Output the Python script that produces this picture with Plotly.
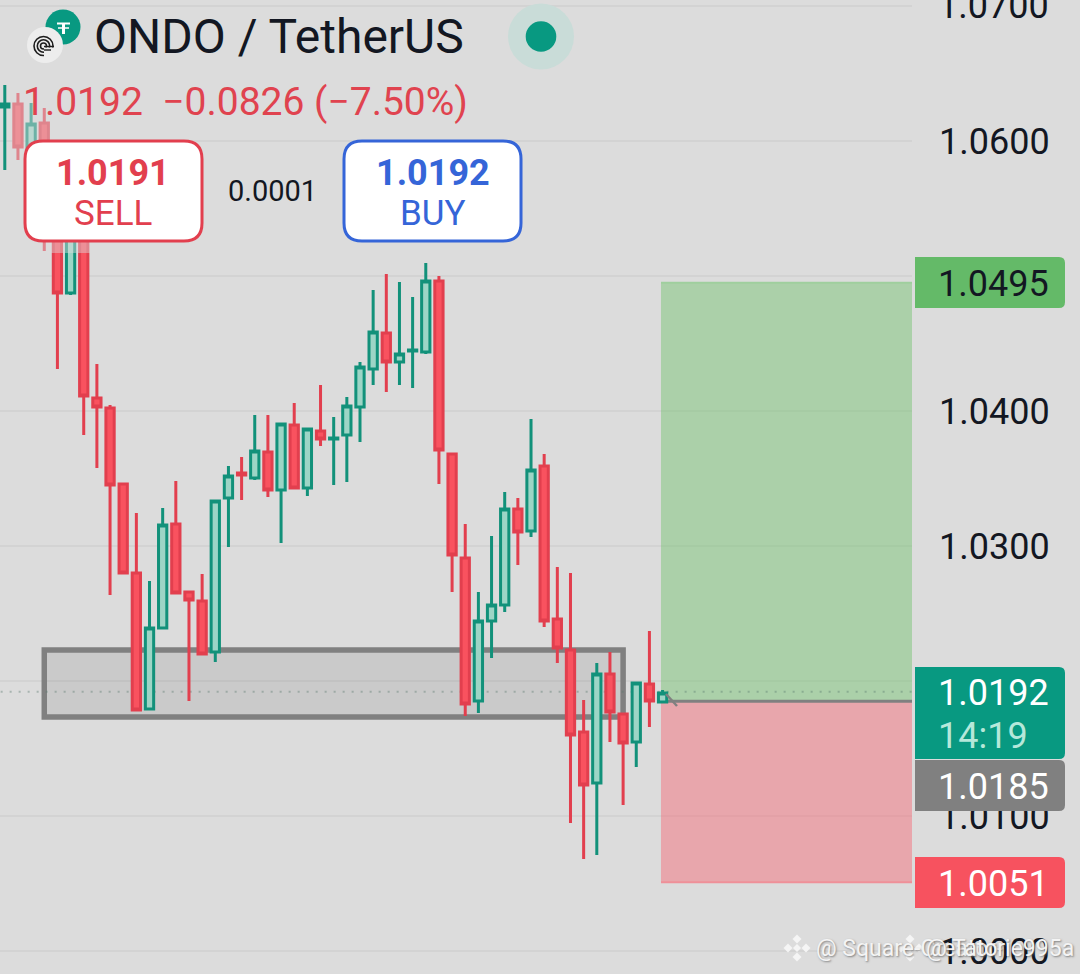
import plotly.graph_objects as go

W, H = 1080, 974
BG = "#dcdcdc"
PANEL = 912

# candle data
direction = ["u","d","u","d","d","u","d","d","d","d","d","u","u","d","d","d","u","u","d","u",
             "d","u","d","u","d","u","u","u","u","d","u","u","u","d","d","d","u","u","u","d",
             "u","d","d","d","d","u","d","d","u","d","u"]
highs = [1.06415,1.06356,1.06281,1.06244,1.05637,1.05637,1.05526,1.04348,1.04044,1.03467,
         1.03244,1.02741,1.03281,1.03481,1.02667,1.02793,1.03333,1.03593,1.03659,1.03970,
         1.03970,1.03911,1.04059,1.03867,1.04193,1.03956,1.04104,1.04363,1.04896,1.05015,
         1.04956,1.04844,1.05096,1.05000,1.03681,1.03163,1.02659,1.03074,1.03400,1.03356,
         1.03941,1.03681,1.02844,1.02800,1.01859,1.02133,1.02215,1.01763,1.01993,1.02370,1.01933]
body_tops = [1.06274,1.06274,1.06126,1.06133,1.05600,1.05526,1.05489,1.04096,1.04022,1.03459,
             1.02800,1.02393,1.03156,1.03163,1.02659,1.02593,1.03333,1.03519,1.03541,1.03704,
             1.03696,1.03904,1.03896,1.03867,1.03852,1.03800,1.04037,1.04326,1.04585,1.04578,
             1.04422,1.04452,1.04963,1.04963,1.03681,1.02911,1.02444,1.02563,1.03274,1.03274,
             1.03563,1.03593,1.02459,1.02230,1.01622,1.02052,1.02052,1.01756,1.01985,1.01978,1.01911]
body_bots = [1.06252,1.05956,1.05822,1.05526,1.04874,1.04874,1.04111,1.04030,1.03452,1.02800,
             1.01785,1.01793,1.02393,1.02652,1.02600,1.02200,1.02215,1.03356,1.03526,1.03504,
             1.03415,1.03415,1.03430,1.03430,1.03793,1.03793,1.03822,1.04030,1.04311,1.04363,
             1.04363,1.04444,1.04437,1.03711,1.02933,1.01830,1.01852,1.02444,1.02563,1.03104,
             1.03111,1.02444,1.02244,1.01600,1.01230,1.01244,1.01770,1.01541,1.01548,1.01852,1.01844]
lows = [1.05785,1.05859,1.05711,1.05185,1.04311,1.04859,1.03822,1.03578,1.02637,1.02793,
        1.01778,1.01785,1.02393,1.02652,1.01852,1.02193,1.02141,1.02993,1.03341,1.03489,
        1.03363,1.03022,1.03430,1.03370,1.03741,1.03452,1.03474,1.03770,1.04193,1.04141,
        1.04193,1.04170,1.04422,1.03459,1.02659,1.01741,1.01763,1.02170,1.02511,1.02859,
        1.03067,1.02400,1.02133,1.00948,1.00681,1.00711,1.01548,1.01081,1.01363,1.01659,1.01837]
opens = [b if d == "u" else t for d, t, b in zip(direction, body_tops, body_bots)]
closes = [t if d == "u" else b for d, t, b in zip(direction, body_tops, body_bots)]
index = list(range(len(highs)))

# axis
tick_values = [1.00, 1.01, 1.02, 1.03, 1.04, 1.05, 1.06, 1.07]
price_range = [0.99830, 1.07044]
index_range = [-0.365, 68.96]
top_tick_price = 1.07

# levels and tool
target_price = 1.0495
entry_price = 1.0185
stop_price = 1.0051
last_price = 1.0192
zone_low, zone_high = 1.01733, 1.0223
zone_start, zone_end = 3, 47
tool_start = 49.88

TEAL = "#089981"
RED = "#e23f4e"
BLUE = "#3565d8"
INK = "#131722"
FONT = "Roboto"


def px(x):
    return x / W


def py(y):
    return 1 - y / H


def rrect(x0, y0, x1, y1, r_left, r_right):
    return (f"M {px(x0 + r_left)} {py(y0)} L {px(x1 - r_right)} {py(y0)} "
            f"Q {px(x1)} {py(y0)} {px(x1)} {py(y0 + r_right)} "
            f"L {px(x1)} {py(y1 - r_right)} Q {px(x1)} {py(y1)} {px(x1 - r_right)} {py(y1)} "
            f"L {px(x0 + r_left)} {py(y1)} Q {px(x0)} {py(y1)} {px(x0)} {py(y1 - r_left)} "
            f"L {px(x0)} {py(y0 + r_left)} Q {px(x0)} {py(y0)} {px(x0 + r_left)} {py(y0)} Z")


def box(x0, y0, x1, y1, fill, line=None, lw=0, r_left=0, r_right=6):
    return dict(type="path", xref="paper", yref="paper", path=rrect(x0, y0, x1, y1, r_left, r_right),
                fillcolor=fill, line=dict(color=line or fill, width=lw), layer="above")


def circle(cx, cy, r, fill="rgba(0,0,0,0)", line=None, lw=0):
    return dict(type="circle", xref="paper", yref="paper", x0=px(cx - r), x1=px(cx + r),
                y0=py(cy + r), y1=py(cy - r), fillcolor=fill,
                line=dict(color=line or "rgba(0,0,0,0)", width=lw), layer="above")


def seg(x0, y0, x1, y1, color, lw):
    return dict(type="line", xref="paper", yref="paper", x0=px(x0), x1=px(x1), y0=py(y0), y1=py(y1),
                line=dict(color=color, width=lw), layer="above")


def diamond(cx, cy, r, fill):
    path = (f"M {px(cx)} {py(cy - r)} L {px(cx + r)} {py(cy)} L {px(cx)} {py(cy + r)} "
            f"L {px(cx - r)} {py(cy)} Z")
    return dict(type="path", xref="paper", yref="paper", path=path, fillcolor=fill,
                line=dict(width=0), layer="above")


def binance(cx, cy):
    c = "rgba(246,246,246,0.95)"
    return [diamond(cx, cy, 4, c), diamond(cx, cy - 9, 4.5, c), diamond(cx, cy + 9, 4.5, c),
            diamond(cx - 9, cy, 4.5, c), diamond(cx + 9, cy, 4.5, c)]


def label(x, y, text, size, color, bold=False, xanchor="left", yref="paper", shadow=None, yshift=0):
    font = dict(family=FONT, size=size, color=color, weight=700 if bold else 400)
    if shadow:
        font["shadow"] = shadow
    return dict(x=px(x), xref="paper", y=py(y) if yref == "paper" else y, yref=yref, text=text,
                showarrow=False, xanchor=xanchor, yanchor="middle", font=font,
                borderpad=0, borderwidth=0, yshift=yshift)


fig = go.Figure(go.Candlestick(
    x=index, open=opens, high=highs, low=lows, close=closes,
    whiskerwidth=0,
    increasing=dict(line=dict(color="#12917a", width=3), fillcolor="#9dd5c6"),
    decreasing=dict(line=dict(color=RED, width=3), fillcolor="#f9525f"),
    showlegend=False, hoverinfo="skip",
))

shapes = [
    # zone box
    dict(type="rect", xref="x", yref="y", x0=zone_start, x1=zone_end, y0=zone_low, y1=zone_high,
         fillcolor="rgba(128,128,128,0.2)", line=dict(color="#808080", width=5.5), layer="between"),
    # long position tool
    dict(type="rect", xref="x", yref="y", x0=tool_start, x1=70, y0=entry_price, y1=target_price,
         fillcolor="rgba(122,196,118,0.5)", line=dict(width=0), layer="between"),
    dict(type="rect", xref="x", yref="y", x0=tool_start, x1=70, y0=stop_price, y1=entry_price,
         fillcolor="rgba(244,112,124,0.5)", line=dict(width=0), layer="between"),
    dict(type="line", xref="x", yref="y", x0=tool_start, x1=70, y0=target_price, y1=target_price,
         line=dict(color="#9fcf9e", width=2), layer="between"),
    dict(type="line", xref="x", yref="y", x0=tool_start, x1=70, y0=stop_price, y1=stop_price,
         line=dict(color="#ef9099", width=2), layer="between"),
    dict(type="line", xref="x", yref="y", x0=tool_start, x1=70, y0=entry_price, y1=entry_price,
         line=dict(color="#808080", width=3), layer="between"),
    # last price dotted line
    dict(type="line", xref="x", yref="y", x0=-1, x1=70, y0=last_price, y1=last_price,
         line=dict(color="rgba(90,120,110,0.4)", width=2, dash="2px,7px"), layer="between"),
    # entry connector
    seg(666, 694, 677, 706, "#808080", 2.5),
    # legend wash over first candles
    dict(type="rect", xref="paper", yref="paper", x0=px(12), x1=px(90), y0=py(253), y1=py(90),
         fillcolor="rgba(220,220,220,0.45)", line=dict(width=0), layer="above"),
    # price tags
    box(915, 257, 1065, 308, "#64ba68"),
    box(915, 667, 1065, 759, TEAL),
    box(915, 760, 1065, 811, "#808080"),
    box(915, 857, 1065, 908, "#f7525f"),
    # sell and buy
    box(25, 141, 202, 241, "#ffffff", RED, 3, 18, 18),
    box(344, 141, 521, 241, "#ffffff", BLUE, 3, 18, 18),
    # status dot
    circle(541, 36.5, 33, "#c9dcd8"),
    circle(541, 36.5, 15.3, TEAL),
    # tether icon
    circle(63, 27, 17.5, TEAL),
    seg(57, 23.5, 70, 23.5, "#ffffff", 2),
    seg(58, 28, 69, 28, "#ffffff", 1.5),
    seg(63.5, 24, 63.5, 34, "#ffffff", 3),
    # ondo icon
    circle(45, 45, 18, "#ededed"),
    circle(43.5, 46, 9.5, "rgba(0,0,0,0)", "#1d1d1d", 1.6),
    circle(43.5, 46, 6.2, "rgba(0,0,0,0)", "#1d1d1d", 1.6),
    circle(43.5, 46, 3, "rgba(0,0,0,0)", "#1d1d1d", 1.6),
    dict(type="rect", xref="paper", yref="paper", x0=px(44), x1=px(55), y0=py(57), y1=py(47.5),
         fillcolor="#ededed", line=dict(width=0), layer="above"),
    seg(44, 46.5, 54, 46.5, "#1d1d1d", 1.4),
    seg(44, 50, 51, 50, "#1d1d1d", 1.4),
]
shapes += binance(797, 948) + binance(910, 948)

WM = "1px 1px 2px rgba(90,90,90,0.7)"
annotations = [
    label(938, top_tick_price, "1.0700", 36, INK, yref="y"),
    label(94, 37, "ONDO / TetherUS", 48, INK),
    label(23, 102, "1.0192\u00a0\u00a0\u22120.0826 (\u22127.50%)", 39, "#e0434f"),
    label(113, 173, "1.0191", 36, RED, bold=True, xanchor="center"),
    label(113, 213, "SELL", 35, RED, xanchor="center"),
    label(272, 191, "0.0001", 29, INK, xanchor="center"),
    label(432.5, 173, "1.0192", 36, BLUE, bold=True, xanchor="center"),
    label(432.5, 213, "BUY", 35, BLUE, xanchor="center"),
    label(938, target_price, "1.0495", 36, INK, yref="y", yshift=-1),
    label(938, last_price, "1.0192", 36, "#ffffff", yref="y", yshift=-1.5),
    label(938, 736, "14:19", 36, "#b5e8da"),
    label(938, 787, "1.0185", 36, "#ffffff"),
    label(938, stop_price, "1.0051", 36, "#ffffff", yref="y", yshift=-1.5),
    label(816, 948, "@ Square-Creator-", 23, "#f4f4f4", shadow=WM),
    label(926, 948, "@ Tatorie995a", 23, "#f4f4f4", shadow=WM),
]

fig.update_layout(
    width=W, height=H, autosize=False,
    margin=dict(l=0, r=0, t=0, b=0, pad=0),
    paper_bgcolor=BG, plot_bgcolor=BG,
    boxgap=0.1,
    showlegend=False,
    shapes=shapes, annotations=annotations,
    xaxis=dict(domain=[0, PANEL / W], range=index_range, visible=False, rangeslider=dict(visible=False),
               fixedrange=True),
    yaxis=dict(domain=[0, 1], range=price_range, side="right", tickvals=tick_values, tickformat=".4f",
               ticks="", ticklabelstandoff=26, showline=False, zeroline=False,
               showgrid=True, gridcolor="#d3d3d3", gridwidth=2,
               tickfont=dict(family=FONT, size=36, color=INK), fixedrange=True),
)

fig.write_html("out.html", config=dict(displayModeBar=False),
               post_script="document.body.style.margin='0';document.documentElement.style.background='#dcdcdc';")
